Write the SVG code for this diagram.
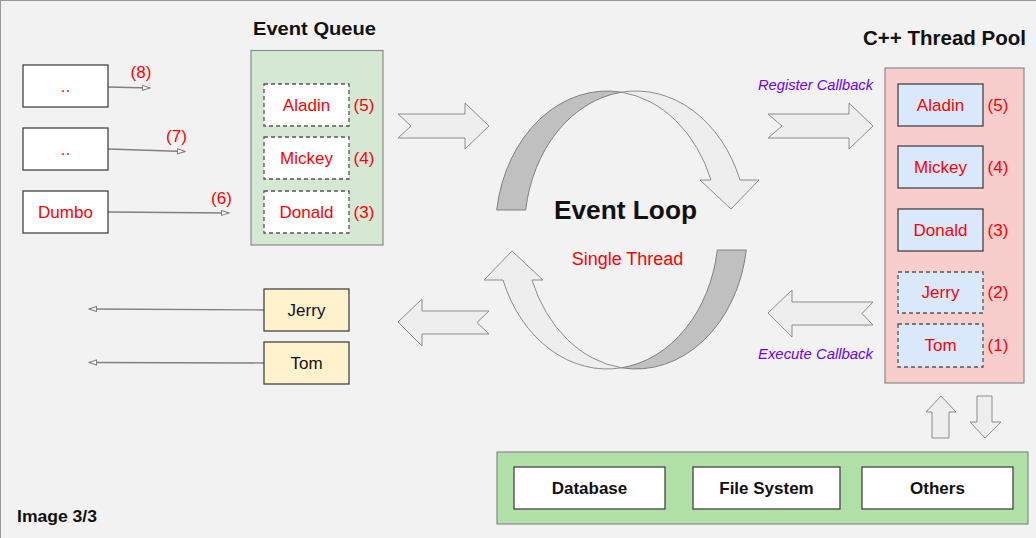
<svg xmlns="http://www.w3.org/2000/svg" width="1036" height="538" viewBox="0 0 1036 538">
  <style>
    text { font-family: "Liberation Sans", Arial, sans-serif; }
    .red { fill: #ff0000; font-size: 17px; text-anchor: middle; }
    .num { fill: #ff0000; font-size: 17px; text-anchor: middle; }
    .blk { fill: #111111; font-size: 17px; text-anchor: middle; }
    .bold { font-weight: bold; fill: #111111; text-anchor: middle; }
    .cb { fill: #6a00ff; font-size: 14.5px; font-style: italic; text-anchor: middle; }
    .box { stroke: #444444; stroke-width: 1.3; }
    .dash { stroke: #555555; stroke-width: 1.3; stroke-dasharray: 4 3; }
    .white { fill: #ffffff; }
    .blue { fill: #dae8fc; }
    .yellow { fill: #fff2cc; }
    .thin { fill: none; stroke: #808080; stroke-width: 1.3; marker-end: url(#open); }
    .block { fill: #eeeeee; stroke: #8c8c8c; stroke-width: 1; }
    .dark { fill: #c0c0c0; stroke: #808080; stroke-width: 1; }
  </style>
  <defs>
    <marker id="open" markerUnits="userSpaceOnUse" markerWidth="10" markerHeight="8" refX="8" refY="3" orient="auto">
      <path d="M0.5,0.5 L8,3 L0.5,5.5 Z" fill="#ffffff" stroke="#808080" stroke-width="1"/>
    </marker>
  </defs>

  <!-- canvas -->
  <rect x="0.5" y="0.5" width="1060" height="560" fill="#f2f2f2" stroke="#999999" stroke-width="1"/>

  <!-- connectors -->
  <g id="connectors">
    <path class="thin" d="M108,87 L150,88"/>
    <path class="thin" d="M108,149 L185,151.5"/>
    <path class="thin" d="M108,212 L229,213"/>
    <path class="thin" d="M264,310 L89,309"/>
    <path class="thin" d="M264,363 L89,362.5"/>

    <!-- block arrows -->
    <polygon class="block" points="398,114 465,114 465,103 489,126 465,149 465,138 398,138 411,126"/>
    <polygon class="block" points="768,114 849,114 849,103 873,126 849,149 849,138 768,138 782,126"/>
    <polygon class="block" points="768,313 792,290 792,302 873,302 862,313.5 873,325 792,325 792,337"/>
    <polygon class="block" points="398,322 422,299 422,311 489,311 477,322.5 489,334 422,334 422,346"/>
    <polygon class="block" points="926,412 941,396 956,412 949,412 949,438 932,438 932,412"/>
    <polygon class="block" points="977,396 992,396 992,422 1001,422 985,438 970,422 977,422"/>
  </g>

  <!-- event loop: two twisted ribbon arrows -->
  <g id="event-loop">
    <path class="dark" d="M496.7,210 A111.5 139 0 0 1 621.5,92.2 A111.5 139 0 0 0 525.7,210 Z"/>
    <path class="block" d="M621.5,92.2 A111.5 139 0 0 1 740,180 L759,180 L731,209 L700,180 L711,180 A111.5 139 0 0 0 621.5,92.2 Z"/>
    <path class="dark" d="M746.3,250 A111.5 139 0 0 1 621.5,367.8 A111.5 139 0 0 0 717.3,250 Z"/>
    <path class="block" d="M621.5,367.8 A111.5 139 0 0 1 503,280 L484,280 L512,251 L543,280 L532,280 A111.5 139 0 0 0 621.5,367.8 Z"/>
    <text class="bold" x="625.5" y="219" font-size="26" textLength="143" lengthAdjust="spacingAndGlyphs">Event Loop</text>
    <text x="627.5" y="265" fill="#ff0000" font-size="18" text-anchor="middle">Single Thread</text>
  </g>

  <!-- outgoing callbacks (left) -->
  <g id="node-left-8">
    <rect class="box white" x="23" y="65" width="85" height="42"/>
    <text class="red" x="65.5" y="92">..</text>
    <text class="num" x="141" y="78">(8)</text>
  </g>
  <g id="node-left-7">
    <rect class="box white" x="23" y="128" width="85" height="42"/>
    <text class="red" x="65.5" y="155">..</text>
    <text class="num" x="176.5" y="142">(7)</text>
  </g>
  <g id="node-dumbo">
    <rect class="box white" x="23" y="191" width="85" height="42"/>
    <text class="red" x="65.5" y="218">Dumbo</text>
    <text class="num" x="221.5" y="204">(6)</text>
  </g>

  <!-- event queue -->
  <g id="event-queue">
    <text class="bold" x="314.5" y="35" font-size="19" textLength="123" lengthAdjust="spacingAndGlyphs">Event Queue</text>
    <rect x="251" y="50.5" width="132" height="194.5" fill="#d5e8d4" stroke="#8a8a8a" stroke-width="1.2"/>
  </g>
  <g id="queue-aladin">
    <rect class="dash white" x="264" y="84" width="85" height="42"/>
    <text class="red" x="306.5" y="111">Aladin</text>
    <text class="num" x="364" y="111">(5)</text>
  </g>
  <g id="queue-mickey">
    <rect class="dash white" x="264" y="137" width="85" height="42"/>
    <text class="red" x="306.5" y="164">Mickey</text>
    <text class="num" x="364" y="164">(4)</text>
  </g>
  <g id="queue-donald">
    <rect class="dash white" x="264" y="191" width="85" height="42"/>
    <text class="red" x="306.5" y="218">Donald</text>
    <text class="num" x="364" y="218">(3)</text>
  </g>

  <!-- finished callbacks -->
  <g id="done-jerry">
    <rect class="box yellow" x="264" y="289" width="85" height="42"/>
    <text class="blk" x="306.5" y="316">Jerry</text>
  </g>
  <g id="done-tom">
    <rect class="box yellow" x="264" y="342" width="85" height="42"/>
    <text class="blk" x="306.5" y="369">Tom</text>
  </g>

  <!-- callback labels -->
  <text class="cb" x="815.5" y="90" textLength="115" lengthAdjust="spacingAndGlyphs">Register Callback</text>
  <text class="cb" x="815.5" y="359" textLength="115" lengthAdjust="spacingAndGlyphs">Execute Callback</text>

  <!-- thread pool -->
  <g id="thread-pool">
    <text class="bold" x="944.5" y="45" font-size="20" textLength="163" lengthAdjust="spacingAndGlyphs">C++ Thread Pool</text>
    <rect x="885" y="68" width="139" height="315" fill="#f8cecc" stroke="#8a8a8a" stroke-width="1.2"/>
  </g>
  <g id="pool-aladin">
    <rect class="box blue" x="898" y="84" width="85" height="42"/>
    <text class="red" x="940.5" y="111">Aladin</text>
    <text class="num" x="998" y="111">(5)</text>
  </g>
  <g id="pool-mickey">
    <rect class="box blue" x="898" y="146" width="85" height="42"/>
    <text class="red" x="940.5" y="173">Mickey</text>
    <text class="num" x="998" y="173">(4)</text>
  </g>
  <g id="pool-donald">
    <rect class="box blue" x="898" y="209" width="85" height="42"/>
    <text class="red" x="940.5" y="236">Donald</text>
    <text class="num" x="998" y="236">(3)</text>
  </g>
  <g id="pool-jerry">
    <rect class="dash blue" x="898" y="272" width="85" height="41"/>
    <text class="red" x="940.5" y="298">Jerry</text>
    <text class="num" x="998" y="298">(2)</text>
  </g>
  <g id="pool-tom">
    <rect class="dash blue" x="898" y="324" width="85" height="43"/>
    <text class="red" x="940.5" y="351">Tom</text>
    <text class="num" x="998" y="351">(1)</text>
  </g>

  <!-- system resources -->
  <g id="resources">
    <rect x="497" y="452" width="531" height="72" fill="#b1dfa8" stroke="#8a8a8a" stroke-width="1.2"/>
  </g>
  <g id="res-database">
    <rect class="box white" x="514" y="467" width="151" height="42"/>
    <text class="bold" x="589.5" y="494" font-size="17">Database</text>
  </g>
  <g id="res-filesystem">
    <rect class="box white" x="693" y="467" width="147" height="42"/>
    <text class="bold" x="766.5" y="494" font-size="17">File System</text>
  </g>
  <g id="res-others">
    <rect class="box white" x="862" y="467" width="151" height="42"/>
    <text class="bold" x="937.5" y="494" font-size="17">Others</text>
  </g>

  <text x="17" y="522" font-size="16" font-weight="bold" fill="#111111" textLength="80" lengthAdjust="spacingAndGlyphs">Image 3/3</text>
</svg>
